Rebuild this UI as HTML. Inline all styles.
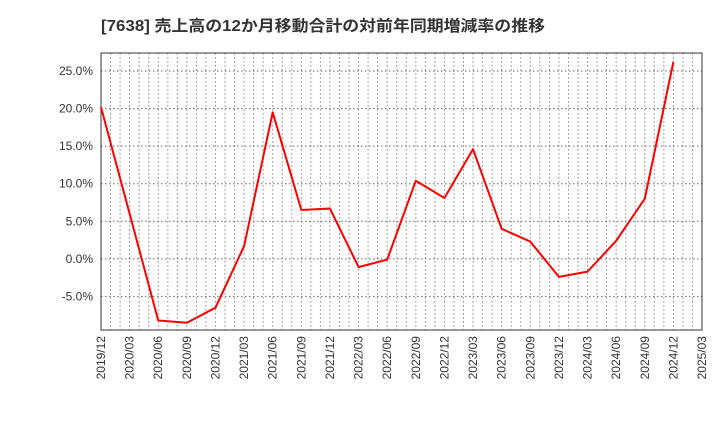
<!DOCTYPE html>
<html><head><meta charset="utf-8"><style>
body{margin:0;background:#fff;width:720px;height:440px;overflow:hidden}
svg{font-family:"Liberation Sans","Noto Sans CJK JP",sans-serif}
</style></head><body>
<svg id="c" width="720" height="440">
<text x="101" y="31" font-size="15.5" font-weight="bold" fill="#333" textLength="444" lengthAdjust="spacingAndGlyphs">[7638]  売上高の12か月移動合計の対前年同期増減率の推移</text>
</svg>
<script>
const categories=["2019/12","2020/03","2020/06","2020/09","2020/12","2021/03","2021/06","2021/09","2021/12","2022/03","2022/06","2022/09","2022/12","2023/03","2023/06","2023/09","2023/12","2024/03","2024/06","2024/09","2024/12","2025/03"];
const values=[20.2,6.0,-8.2,-8.5,-6.5,1.7,19.5,6.5,6.7,-1.1,-0.1,10.4,8.1,14.6,4.0,2.3,-2.4,-1.7,2.4,8.0,26.2,null];
const yTicks=[-5,0,5,10,15,20,25];
const NS="http://www.w3.org/2000/svg";
const svg=document.getElementById('c');
const L=101,R=702,T=53,B=330,yMin=-9.47,yMax=27.4;
const x=i=>L+(R-L)*i/(categories.length-1);
const y=v=>B-(v-yMin)/(yMax-yMin)*(B-T);
function mk(t,a,p){const e=document.createElementNS(NS,t);for(const k in a)e.setAttribute(k,a[k]);(p||svg).appendChild(e);return e;}
const g=mk('g',{});


const months=(categories.length-1)*3;
for(let m=1;m<months;m++){const xx=L+(R-L)*m/months;mk('line',{x1:xx,x2:xx,y1:T,y2:B,stroke:'#888','stroke-dasharray':'1.5,2.5','stroke-width':1},g);}
yTicks.forEach(v=>{const yy=y(v);mk('line',{x1:L,x2:R,y1:yy,y2:yy,stroke:'#666','stroke-dasharray':'1.5,2.5','stroke-width':1},g);
const t=mk('text',{x:L-8,y:yy+4,'text-anchor':'end','font-size':12,fill:'#333'});t.textContent=v.toFixed(1)+'%';

});
categories.forEach((c,i)=>{const xx=x(i);const t=mk('text',{x:0,y:0,transform:`translate(${xx+4},${B+6}) rotate(-90)`,'text-anchor':'end','font-size':12,fill:'#333'});t.textContent=c;

});
const fr=mk('rect',{x:L,y:T,width:R-L,height:B-T,fill:'none',stroke:'#333','stroke-width':1});


let d='';values.forEach((v,i)=>{if(v==null)return;d+=(d?'L':'M')+x(i)+','+y(v);});
const p=mk('path',{d:d,fill:'none',stroke:'#f00','stroke-width':2,'stroke-linejoin':'round'});


</script>
</body></html>
